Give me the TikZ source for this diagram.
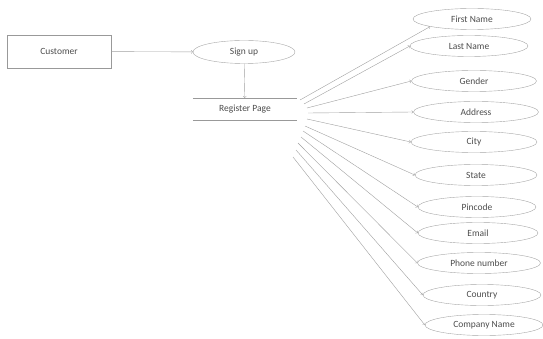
\documentclass[tikz,border=0pt]{standalone}
\usepackage{fontspec}
\setmainfont{Carlito}
\usetikzlibrary{shapes.geometric}

\tikzset{
	entitybox/.style={draw=gray!80, thin, minimum width=104pt, minimum height=33pt},
	attrib/.style={draw=gray!70, thin, ellipse, minimum width=118pt, minimum height=21pt, inner sep=0pt},
	link/.style={draw=gray!75, thin, ->}
}

\begin{document}
\begin{tikzpicture}[x=1pt, y=-1pt, font=\fontsize{9.5}{11}\selectfont, every node/.append style={text=black!70}]

				\useasboundingbox (0,0) rectangle (543,339);
				\node[entitybox] (cust) at (59,51.5) {Customer};
				\node[attrib, minimum width=102pt, minimum height=23pt] (signup) at (244,52) {Sign up};
				\node[minimum width=104pt, minimum height=22pt] (reg) at (245,109) {Register Page};
				\draw[gray!80, thin] (reg.north west) -- (reg.north east);
				\draw[gray!80, thin] (reg.south west) -- (reg.south east);
				\draw[link] (cust) -- (signup);
				\draw[link] (signup) -- (reg);

				\node[attrib] (first) at (472,19) {First Name};
				\node[attrib] (last) at (469,46) {Last Name};
				\node[attrib, minimum width=125pt] (gender) at (474,81) {Gender};
				\node[attrib, minimum width=125pt] (addr) at (476,112) {Address};
				\node[attrib, minimum width=126pt] (city) at (474,142) {City};
				\node[attrib, minimum width=122pt] (state) at (476,175) {State};
				\node[attrib] (pin) at (477,207) {Pincode};
				\node[attrib, minimum width=120pt] (email) at (478,233) {Email};
				\node[attrib, minimum width=123pt] (phone) at (479,263) {Phone number};
				\node[attrib] (country) at (482,295) {Country};
				\node[attrib] (company) at (484,325) {Company Name};

				% fan of links from the register page
				\coordinate (r1) at (300,100);
				\coordinate (r2) at (304,104);
				\coordinate (r3) at (307,108);
				\coordinate (r4) at (308,113);
				\coordinate (r5) at (307,119);
				\coordinate (r6) at (305,126);
				\coordinate (r7) at (303,131);
				\coordinate (r8) at (301,137);
				\coordinate (r9) at (298,143);
				\coordinate (r10) at (296,150);
				\coordinate (r11) at (293,157);
				\draw[link] (r1) -- (first.south west);
				\draw[link] (r2) -- (last.west);
				\draw[link] (r3) -- (gender.west);
				\draw[link] (r4) -- (addr.west);
				\draw[link] (r5) -- (city.west);
				\draw[link] (r6) -- (state.west);
				\draw[link] (r7) -- (pin.west);
				\draw[link] (r8) -- (email.west);
				\draw[link] (r9) -- (phone.west);
				\draw[link] (r10) -- (country.west);
				\draw[link] (r11) -- (company.west);
			\end{tikzpicture}
\end{document}
